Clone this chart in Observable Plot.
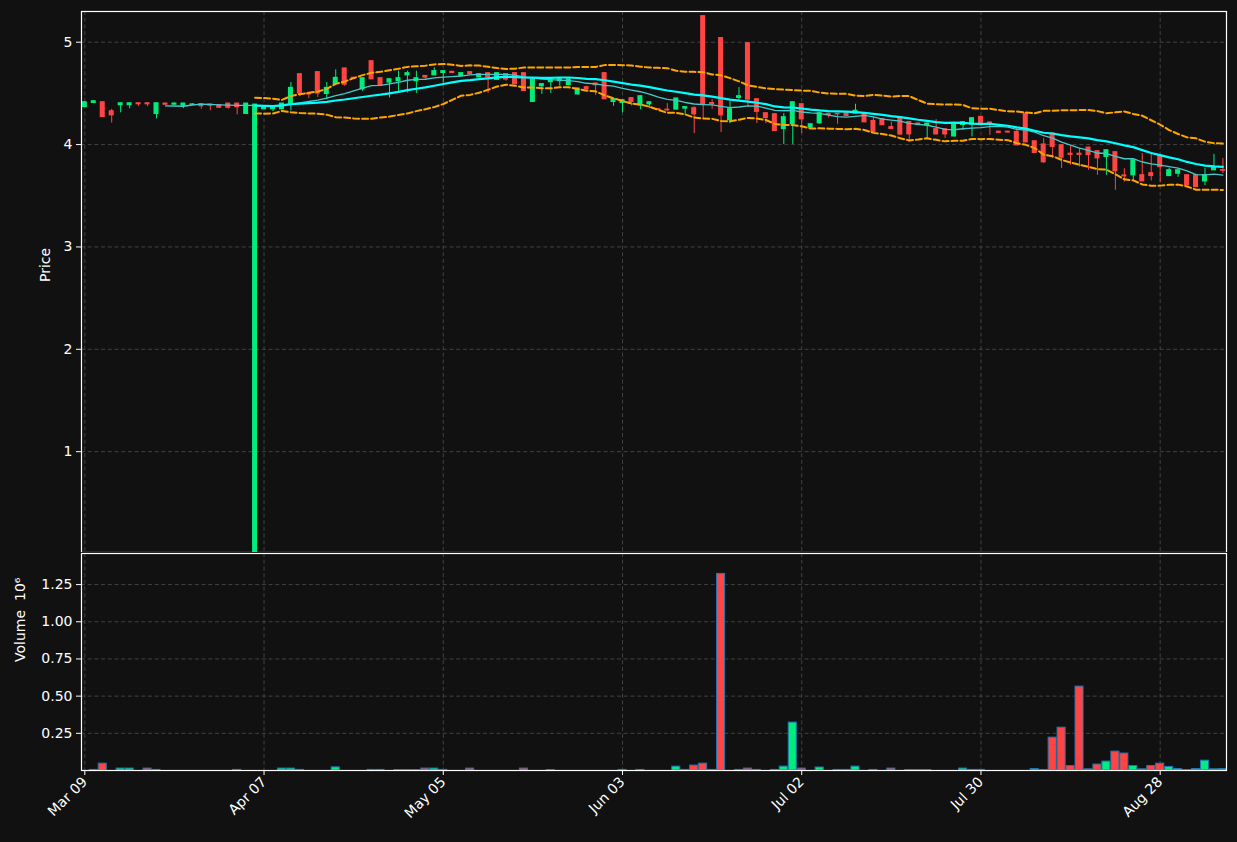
<!DOCTYPE html>
<html><head><meta charset="utf-8">
<script src="https://cdn.jsdelivr.net/npm/d3@7"></script>
<script src="https://cdn.jsdelivr.net/npm/@observablehq/plot@0.6"></script>
<style>
html,body{margin:0;padding:0;background:#111111;}
#wrap{position:relative;width:1237px;height:842px;overflow:hidden;background:#111111;}
#wrap svg{position:absolute;left:0;}
</style></head><body><div id="wrap"></div>
<script>
const opens = [4.367,4.407,4.413,4.325,4.385,4.385,4.403,4.403,4.30,4.40,
4.39,4.38,4.39,4.394,4.39,4.385,4.40,4.40,4.30,0.0,
4.345,4.345,4.345,4.40,4.687,4.50,4.707,4.495,4.592,4.743,
4.652,4.54,4.814,4.648,4.606,4.619,4.677,4.62,4.67,4.677,
4.70,4.71,4.67,4.707,4.657,4.697,4.632,4.687,4.697,4.697,
4.417,4.57,4.61,4.62,4.58,4.49,4.56,4.596,4.697,4.417,
4.407,4.453,4.384,4.394,4.345,4.34,4.342,4.352,4.355,5.254,
4.405,5.04,4.238,4.456,4.99,4.443,4.306,4.296,4.152,4.20,
4.394,4.166,4.208,4.30,4.30,4.306,4.303,4.303,4.23,4.25,
4.17,4.26,4.22,4.205,4.19,4.15,4.15,4.08,4.192,4.195,
4.27,4.215,4.125,4.125,4.123,4.303,4.032,4.0,4.108,3.993,
3.91,3.91,3.97,3.935,3.879,3.925,3.698,3.70,3.70,3.72,
3.886,3.693,3.716,3.70,3.70,3.641,3.749,3.75];
const highs = [4.42,4.425,4.415,4.345,4.405,4.405,4.405,4.405,4.405,4.405,
4.405,4.405,4.40,4.40,4.395,4.39,4.40,4.40,4.40,4.39,
4.38,4.38,4.40,4.606,4.69,4.50,4.71,4.606,4.73,4.745,
4.655,4.65,4.815,4.65,4.64,4.717,4.717,4.717,4.675,4.75,
4.72,4.715,4.70,4.71,4.69,4.70,4.70,4.69,4.70,4.70,
4.64,4.595,4.64,4.65,4.64,4.55,4.57,4.60,4.70,4.445,
4.435,4.455,4.475,4.415,4.35,4.40,4.45,4.37,4.37,5.254,
4.44,5.04,4.42,4.557,4.99,4.445,4.31,4.30,4.303,4.415,
4.395,4.20,4.31,4.305,4.30,4.31,4.394,4.305,4.27,4.255,
4.22,4.265,4.225,4.21,4.21,4.244,4.155,4.195,4.22,4.26,
4.275,4.22,4.13,4.13,4.156,4.305,4.035,4.06,4.11,3.995,
3.986,3.96,3.975,3.94,3.95,3.93,3.765,3.85,3.912,3.912,
3.89,3.77,3.75,3.705,3.705,3.765,3.905,3.863];
const lows = [4.36,4.40,4.265,4.21,4.31,4.35,4.37,4.37,4.25,4.385,
4.385,4.35,4.385,4.345,4.33,4.355,4.345,4.29,4.30,0.0,
4.34,4.32,4.34,4.33,4.47,4.45,4.46,4.44,4.59,4.57,
4.64,4.52,4.635,4.575,4.455,4.514,4.504,4.50,4.64,4.675,
4.60,4.695,4.665,4.685,4.655,4.50,4.63,4.62,4.585,4.52,
4.415,4.49,4.50,4.57,4.575,4.485,4.53,4.48,4.44,4.374,
4.31,4.377,4.34,4.35,4.335,4.32,4.34,4.286,4.108,4.244,
4.345,4.117,4.205,4.433,4.368,4.205,4.205,4.13,4.0,4.0,
4.108,4.16,4.20,4.26,4.198,4.278,4.30,4.215,4.12,4.185,
4.15,4.095,4.025,4.185,4.06,4.095,4.06,4.075,4.14,4.075,
4.185,4.09,4.11,4.115,3.99,4.02,3.915,3.815,3.863,3.765,
3.797,3.78,3.749,3.70,3.70,3.553,3.634,3.644,3.64,3.644,
3.63,3.69,3.68,3.60,3.58,3.60,3.745,3.716];
const closes = [4.413,4.423,4.27,4.286,4.403,4.403,4.394,4.394,4.403,4.39,
4.40,4.40,4.392,4.375,4.38,4.36,4.36,4.365,4.40,4.39,
4.375,4.375,4.40,4.553,4.499,4.49,4.499,4.553,4.651,4.586,
4.645,4.648,4.638,4.58,4.638,4.648,4.697,4.648,4.655,4.717,
4.717,4.70,4.697,4.687,4.687,4.657,4.697,4.636,4.59,4.524,
4.638,4.59,4.638,4.648,4.638,4.547,4.54,4.58,4.443,4.443,
4.433,4.417,4.472,4.413,4.34,4.335,4.45,4.365,4.296,4.387,
4.395,4.286,4.345,4.472,4.44,4.32,4.26,4.133,4.267,4.413,
4.247,4.198,4.306,4.29,4.296,4.28,4.33,4.218,4.123,4.19,
4.153,4.098,4.10,4.19,4.205,4.10,4.10,4.19,4.218,4.257,
4.19,4.205,4.115,4.118,3.993,4.022,3.918,3.828,3.977,3.873,
3.90,3.90,3.898,3.866,3.944,3.739,3.69,3.846,3.641,3.693,
3.78,3.749,3.749,3.602,3.585,3.70,3.778,3.745];
// volume in millions
const volumes = [0,0.004,0.046,0,0.013,0.013,0,0.013,0.004,0,
0,0,0,0,0,0,0,0.004,0,0,
0,0,0.013,0.013,0.004,0,0,0,0.021,0,
0,0,0.004,0.004,0,0.003,0.003,0.003,0.013,0.013,
0.004,0,0,0.013,0,0,0,0,0,0.013,
0,0,0.003,0,0,0,0,0,0,0,
0.004,0,0.004,0,0,0,0.026,0.004,0.033,0.046,
0.004,1.322,0,0.004,0.013,0.004,0,0.004,0.026,0.322,
0.013,0,0.02,0,0.004,0.004,0.026,0,0.004,0,
0.013,0,0.003,0.003,0.003,0,0,0,0.013,0.004,
0.004,0,0,0,0,0,0.01,0.003,0.221,0.288,
0.03,0.564,0.008,0.04,0.06,0.127,0.114,0.03,0.008,0.03,
0.046,0.024,0.01,0.003,0.01,0.066,0.008,0.01];
const xTickLabels = ["Mar 09","Apr 07","May 05","Jun 03","Jul 02","Jul 30","Aug 28"];
const xTickIndex = [0,20,40,60,80,100,120];
const priceTicks = [1,2,3,4,5];
const volTicks = [0.25,0.5,0.75,1.0,1.25];

const data = closes.map((c,i)=>({i, open:opens[i], high:highs[i], low:lows[i], close:c, vol:volumes[i], up: c>=opens[i]}));
const UP = "#00ec7c", DOWN = "#ff4444";
const colorOf = d => d.up ? UP : DOWN;
const grid = {stroke:"#474747", strokeDasharray:"4,2.7", strokeWidth:0.9};
const xDomain = [-0.37, 127.4];
const common = {
  width:1237, marginLeft:81, marginRight:11,
  color:{type:"identity"},
  style:{background:"#111111", color:"white", fontFamily:"DejaVu Sans, sans-serif", fontSize:"14px", overflow:"visible"}
};
const band = (k, s) => (v) => (v.length < k || v.some(x => x == null || isNaN(x))) ? NaN : d3.mean(v) + s * d3.deviation(v);
const ma = (k) => (v) => (v.length < k || v.some(x => x == null || isNaN(x))) ? NaN : d3.mean(v);

const price = Plot.plot({
  ...common, height:553, marginTop:11, marginBottom:1,
  x:{domain:xDomain, axis:null},
  y:{domain:[0.015,5.3], ticks:priceTicks, tickFormat:d=>String(d), label:null, tickSize:5},
  marks:[
    Plot.ruleX(xTickIndex, {x:d=>d, ...grid}),
    Plot.ruleY(priceTicks, {y:d=>d, ...grid}),
    Plot.ruleX(data, {x:"i", y1:"low", y2:"high", stroke:colorOf, strokeWidth:1, clip:true}),
    Plot.rect(data, {x1:d=>d.i-0.28, x2:d=>d.i+0.28, y1:d=>Math.min(d.open,d.close), y2:d=>Math.max(d.open,d.close), fill:colorOf, insetTop:-0.6, insetBottom:-0.6, clip:true}),
    Plot.lineY(data, Plot.windowY({k:10, anchor:"end", strict:true, reduce:ma(10)}, {x:"i", y:"close", stroke:"#45c8c8", strokeWidth:1.3})),
    Plot.lineY(data, Plot.windowY({k:20, anchor:"end", strict:true, reduce:ma(20)}, {x:"i", y:"close", stroke:"#00ffff", strokeWidth:2.2})),
    Plot.lineY(data, Plot.windowY({k:20, anchor:"end", strict:true, reduce:band(20, 2)}, {x:"i", y:"close", stroke:"#ffa500", strokeWidth:2, strokeDasharray:"6,3"})),
    Plot.lineY(data, Plot.windowY({k:20, anchor:"end", strict:true, reduce:band(20, -2)}, {x:"i", y:"close", stroke:"#ffa500", strokeWidth:2, strokeDasharray:"6,3"})),
    Plot.text(["Price"], {frameAnchor:"left", dx:-36, rotate:-90, text:d=>d, fill:"white", fontSize:14}),
    Plot.frame({stroke:"white", strokeWidth:1.2})
  ]
});

const vol = Plot.plot({
  ...common, height:290, marginTop:1, marginBottom:72,
  x:{domain:xDomain, ticks:xTickIndex, tickFormat:d=>xTickLabels[xTickIndex.indexOf(d)], tickRotate:-45, label:null, tickSize:5, tickPadding:4},
  y:{domain:[0,1.459], ticks:volTicks, tickFormat:d3.format(".2f"), label:null, tickSize:5},
  marks:[
    Plot.ruleX(xTickIndex, {x:d=>d, ...grid}),
    Plot.ruleY(volTicks, {y:d=>d, ...grid}),
    Plot.rectY(data.filter(d=>d.vol>0), {x1:d=>d.i-0.45, x2:d=>d.i+0.45, y:"vol", fill:colorOf, stroke:"#1f77b4", strokeWidth:1}),
    Plot.text(["Volume\u00a0 10\u2076"], {frameAnchor:"left", dx:-61, rotate:-90, text:d=>d, fill:"white", fontSize:14}),
    Plot.frame({stroke:"white", strokeWidth:1.2})
  ]
});

const wrap = document.getElementById("wrap");
price.style.top = "0px";
vol.style.top = "552px";
wrap.appendChild(price);
wrap.appendChild(vol);
</script></body></html>
